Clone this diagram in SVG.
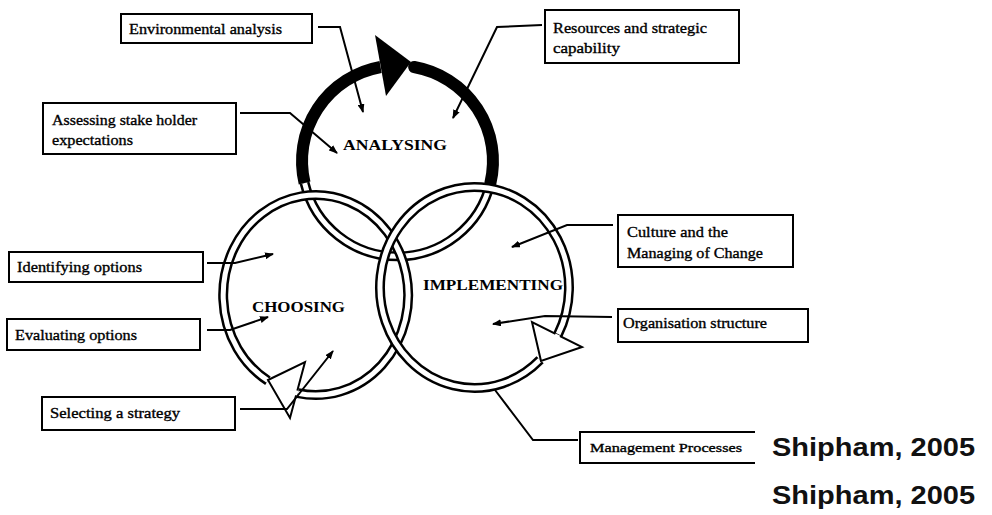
<svg xmlns="http://www.w3.org/2000/svg" width="992" height="515" viewBox="0 0 992 515">
  <style>
    .box { fill: #fff; stroke: #000; stroke-width: 2; }
    .lbl { font-family: 'Liberation Serif', 'Times New Roman', serif; font-size: 15px; fill: #000; stroke: #000; stroke-width: 0.35; }
    .title { font-family: 'Liberation Serif', 'Times New Roman', serif; font-size: 15px; font-weight: bold; fill: #000; }
    .ring-o { fill: none; stroke: #000; stroke-width: 10; }
    .ring-i { fill: none; stroke: #fff; stroke-width: 5; }
    .thick { fill: none; stroke: #000; stroke-width: 12; }
    .head { fill: #fff; stroke: #000; stroke-width: 2; stroke-linejoin: miter; }
    .conn { fill: none; stroke: #000; stroke-width: 2; }
    .cite { font-family: 'Liberation Sans', Arial, sans-serif; font-size: 26px; font-weight: bold; fill: #111; }
  </style>
  <defs>
    <marker id="arr" markerUnits="userSpaceOnUse" markerWidth="9" markerHeight="7" refX="8" refY="3.5" orient="auto">
      <path d="M0,0 L9,3.5 L0,7 z" fill="#000"/>
    </marker>
  </defs>
  <rect width="992" height="515" fill="#fff"/>

  <!-- lower half of the analysing ring, passing under the other two rings -->
  <g id="analysing">
    <path class="ring-o" d="M490.4,183 A95.5,95.5 0 0 1 304.6,183"/>
    <path class="ring-i" d="M490.4,183 A95.5,95.5 0 0 1 304.6,183"/>
    <!-- heavy upper arc with the solid arrowhead -->
    <path class="thick" d="M304.6,183 A95.5,95.5 0 0 1 380.6,67"/>
    <path class="thick" stroke-linecap="round" d="M414.1,67 A95.5,95.5 0 0 1 490.4,183"/>
    <polygon points="375,35 386,96 411,62" fill="#000"/>
    <text class="title" x="343" y="150" textLength="104" lengthAdjust="spacingAndGlyphs">ANALYSING</text>
  </g>

  <g id="choosing">
    <path class="ring-o" d="M267.9,380.7 A92.5,100 0 1 1 297.85,393.2"/>
    <path class="ring-i" d="M267.9,380.7 A92.5,100 0 1 1 297.85,393.2"/>
    <polygon class="head" points="268,380 305,362 290,418"/>
    <path class="ring-i" d="M297.85,393.2 A92.5,100 0 0 1 294.7,392.4"/>
    <text class="title" x="252" y="312" textLength="93" lengthAdjust="spacingAndGlyphs">CHOOSING</text>
  </g>

  <g id="implementing">
    <path class="ring-o" d="M540.1,359.8 A94.5,100.5 0 1 1 557.9,334.7"/>
    <path class="ring-i" d="M540.1,359.8 A94.5,100.5 0 1 1 557.9,334.7"/>
    <polygon class="head" points="541,361 532,322 582,347"/>
    <path class="ring-i" d="M557.9,334.7 A94.5,100.5 0 0 1 556.3,337.75"/>
    <text class="title" x="423" y="290" textLength="140" lengthAdjust="spacingAndGlyphs">IMPLEMENTING</text>
  </g>

  <!-- label boxes -->
  <g id="environmental-analysis">
    <rect class="box" x="121" y="14" width="191" height="29"/>
    <text class="lbl" x="129" y="34" textLength="153" lengthAdjust="spacingAndGlyphs">Environmental analysis</text>
  </g>
  <g id="resources">
    <rect class="box" x="545" y="10" width="194" height="53"/>
    <text class="lbl" x="553" y="33" textLength="154" lengthAdjust="spacingAndGlyphs">Resources and strategic</text>
    <text class="lbl" x="553" y="53" textLength="67" lengthAdjust="spacingAndGlyphs">capability</text>
  </g>
  <g id="stakeholder-expectations">
    <rect class="box" x="43" y="103" width="193" height="51"/>
    <text class="lbl" x="52" y="125" textLength="145" lengthAdjust="spacingAndGlyphs">Assessing stake holder</text>
    <text class="lbl" x="52" y="145" textLength="81" lengthAdjust="spacingAndGlyphs">expectations</text>
  </g>
  <g id="identifying-options">
    <rect class="box" x="9" y="252" width="194" height="30"/>
    <text class="lbl" x="17" y="272" textLength="125" lengthAdjust="spacingAndGlyphs">Identifying options</text>
  </g>
  <g id="evaluating-options">
    <rect class="box" x="7" y="319" width="193" height="31"/>
    <text class="lbl" x="15" y="340" textLength="122" lengthAdjust="spacingAndGlyphs">Evaluating options</text>
  </g>
  <g id="selecting-strategy">
    <rect class="box" x="42" y="397" width="193" height="33"/>
    <text class="lbl" x="50" y="418" textLength="130" lengthAdjust="spacingAndGlyphs">Selecting a strategy</text>
  </g>
  <g id="culture-change">
    <rect class="box" x="618" y="215" width="175" height="52"/>
    <text class="lbl" x="627" y="237" textLength="101" lengthAdjust="spacingAndGlyphs">Culture and the</text>
    <text class="lbl" x="627" y="258" textLength="136" lengthAdjust="spacingAndGlyphs">Managing of Change</text>
  </g>
  <g id="organisation-structure">
    <rect class="box" x="618" y="309" width="190" height="33"/>
    <text class="lbl" x="623" y="328" textLength="144" lengthAdjust="spacingAndGlyphs">Organisation structure</text>
  </g>
  <g id="management-processes">
    <path class="box" fill="none" d="M755,432 H580 V463 H755"/>
    <text class="lbl" style="font-size:13px" x="590" y="452" textLength="152" lengthAdjust="spacingAndGlyphs">Management Processes</text>
  </g>

  <g id="connectors">
    <polyline class="conn" marker-end="url(#arr)" points="318,27 340,27 363,112"/>
    <polyline class="conn" marker-end="url(#arr)" points="542,25 497,27 453,118"/>
    <polyline class="conn" marker-end="url(#arr)" points="240,113 290,113 337,153"/>
    <polyline class="conn" marker-end="url(#arr)" points="207,263 235,263 273,254"/>
    <polyline class="conn" marker-end="url(#arr)" points="207,330 230,330 268,317"/>
    <polyline class="conn" marker-end="url(#arr)" points="240,409 287,409 333,351"/>
    <polyline class="conn" marker-end="url(#arr)" points="613,225 567,225 512,247"/>
    <polyline class="conn" marker-end="url(#arr)" points="612,317 545,316 493,324"/>
    <polyline class="conn" points="578,440 533,440 495,390"/>
  </g>

  <text class="cite" x="772" y="456" textLength="203" lengthAdjust="spacingAndGlyphs">Shipham, 2005</text>
  <text class="cite" x="772" y="504" textLength="203" lengthAdjust="spacingAndGlyphs">Shipham, 2005</text>
</svg>
